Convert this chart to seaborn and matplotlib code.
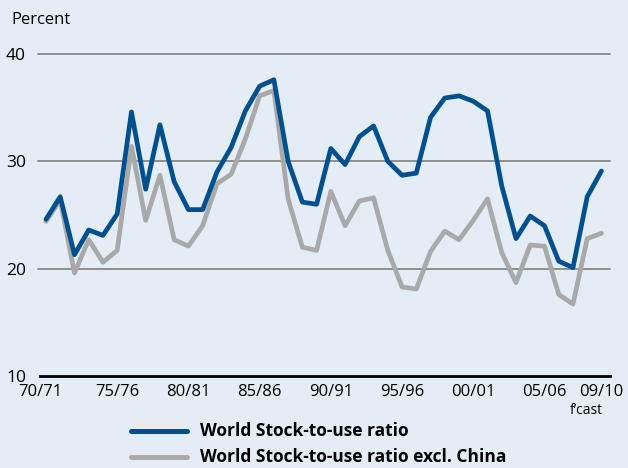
import matplotlib
matplotlib.use("Agg")
import matplotlib.pyplot as plt
import numpy as np
import pandas as pd
import seaborn as sns

# Marketing years 1970/71 .. 2009/10 (last one is a forecast)
years = list(range(1970, 2010))
world_ratio = [24.6, 26.7, 21.3, 23.6, 23.1, 25.1, 34.6, 27.4, 33.4, 28.1,
               25.5, 25.5, 29.0, 31.3, 34.7, 37.0, 37.6, 30.0, 26.2, 26.0,
               31.2, 29.7, 32.3, 33.3, 30.0, 28.7, 28.9, 34.1, 35.9, 36.1,
               35.6, 34.7, 27.7, 22.8, 24.9, 24.0, 20.7, 20.1, 26.7, 29.1]
excl_china = [24.4, 26.4, 19.6, 22.7, 20.6, 21.7, 31.4, 24.5, 28.7, 22.7,
              22.1, 24.0, 27.9, 28.8, 32.1, 36.1, 36.6, 26.5, 22.0, 21.7,
              27.2, 24.0, 26.3, 26.6, 21.7, 18.3, 18.1, 21.6, 23.5, 22.7,
              24.5, 26.5, 21.5, 18.7, 22.2, 22.1, 17.6, 16.7, 22.8, 23.3]
series_names = ["World Stock-to-use ratio", "World Stock-to-use ratio excl. China"]
tick_years = [1970, 1975, 1980, 1985, 1990, 1995, 2000, 2005, 2009]
tick_labels = ["70/71", "75/76", "80/81", "85/86", "90/91", "95/96", "00/01", "05/06", "09/10"]
y_ticks = [10, 20, 30, 40]

BG = "#e4edf5"
BLUE = "#00508f"
GREY = "#a9a9a9"

sns.set_theme(style="white")
plt.rcParams["font.family"] = ["Open Sans", "DejaVu Sans"]

df = pd.DataFrame({
    "year": years * 2,
    "ratio": excl_china + world_ratio,
    "series": [series_names[1]] * len(years) + [series_names[0]] * len(years),
})

fig = plt.figure(figsize=(6.28, 4.68), dpi=100, facecolor=BG)
ax = fig.add_axes([40 / 628, 1 - 376 / 468, 570 / 628, 322 / 468])
ax.set_facecolor(BG)

sns.lineplot(data=df, x="year", y="ratio", hue="series",
             hue_order=[series_names[1], series_names[0]],
             palette={series_names[0]: BLUE, series_names[1]: GREY},
             linewidth=3.4, ax=ax, legend=False, zorder=3)

x0 = years[0]
ax.set_xlim(x0 - 0.42, x0 + 39.6)
ax.set_ylim(10, 40)

for s in ["top", "right", "left"]:
    ax.spines[s].set_visible(False)
ax.spines["bottom"].set_color("black")
ax.spines["bottom"].set_linewidth(2.0)
ax.spines["bottom"].set_zorder(4)

# horizontal guides
for v in y_ticks[1:]:
    ax.axhline(v, xmin=-0.003, xmax=1, color="#8f8f8f", linewidth=1.4, zorder=1, clip_on=False)

ticks = [x0 - 0.42] + tick_years[1:]
ax.set_xticks(ticks)
ax.set_xticklabels(tick_labels, fontsize=12, color="black")
ax.tick_params(axis="x", direction="in", length=6, width=1.6, color="black", pad=6)
ax.set_yticks(y_ticks)
ax.set_yticklabels([str(v) for v in y_ticks], fontsize=12.5, color="black")
ax.tick_params(axis="y", length=0, pad=10)
ax.set_xlabel("")
ax.set_ylabel("")

fig.text(11 / 628, 1 - 20 / 468, "Percent", fontsize=12, ha="left", va="center", color="black")
fig.text(586 / 628, 1 - 410 / 468, "f\u2019cast", fontsize=10, ha="center", va="center", color="black")

# legend drawn by hand at the bottom
for name, col, yy in [(series_names[0], BLUE, 431), (series_names[1], GREY, 457)]:
    yf = 1 - yy / 468
    fig.add_artist(plt.Line2D([131 / 628, 187 / 628], [yf, yf], color=col, linewidth=3.6,
                              solid_capstyle="round", transform=fig.transFigure))
    fig.text(200 / 628, yf, name, fontsize=12.5, fontweight="bold", ha="left", va="center", color="black")

fig.savefig("out.png", dpi=100, facecolor=BG)
